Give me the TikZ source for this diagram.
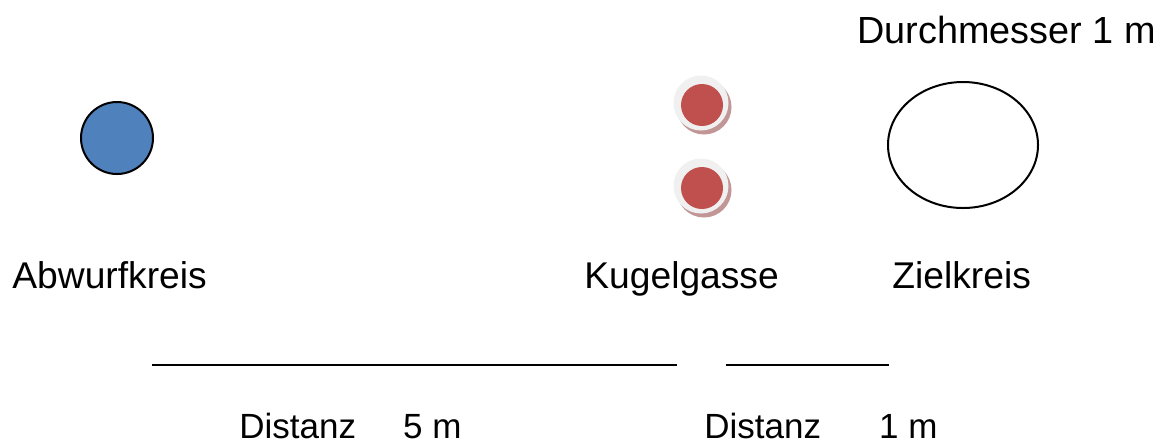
\documentclass[tikz,border=0pt]{standalone}
\usepackage{fontspec}
\setmainfont{Liberation Sans}
\usetikzlibrary{shapes.geometric}
\definecolor{ballblue}{HTML}{4F81BD}
\definecolor{ballred}{HTML}{C0504D}
\definecolor{ringgray}{HTML}{F0F0F0}
\definecolor{shadowred}{HTML}{C29696}
\begin{document}
\begin{tikzpicture}[x=0.5pt,y=-0.5pt,
  lbl/.style={anchor=base west,inner sep=0pt,font=\fontsize{18.6pt}{22pt}\selectfont},
  dlbl/.style={anchor=base west,inner sep=0pt,font=\fontsize{17.5pt}{21pt}\selectfont},
  rule/.style={line width=0.75pt},
  ring/.style={circle,fill=ringgray,inner sep=0pt,minimum size=27.5pt},
  shadow/.style={circle,fill=shadowred,inner sep=0pt,minimum size=27.5pt},
  redball/.style={circle,fill=ballred,inner sep=0pt,minimum size=21pt}]
\useasboundingbox (0,0) rectangle (1161,447);
% throw circle
\node[circle,draw=black,line width=1pt,fill=ballblue,inner sep=0pt,minimum size=36pt] (throw) at (117,138) {};
% balls
\node[shadow] (sh1) at (704,107) {};
\node[ring] (ring1) at (701,103) {};
\node[redball] (ball1) at (702,105) {};
\node[shadow] (sh2) at (704,190) {};
\node[ring] (ring2) at (701,186) {};
\node[redball] (ball2) at (702,188) {};
% target circle
\node[ellipse,draw=black,line width=1pt,inner sep=0pt,minimum width=75pt,minimum height=63pt] (target) at (963,145) {};
% labels
\node[lbl,font=\fontsize{18.9pt}{22pt}\selectfont] (diam) at (857,43) {Durchmesser 1 m};
\node[lbl] (abw) at (12,288) {Abwurfkreis};
\node[lbl] (kug) at (584,288) {Kugelgasse};
\node[lbl] (ziel) at (892,288) {Zielkreis};
\node[dlbl] (d5) at (239,438) {Distanz\hspace{23.5pt}5 m};
\node[dlbl] (d1) at (704,438) {Distanz\hspace{29pt}1 m};
% distance lines
\coordinate (l1a) at (152,365);
\coordinate (l1b) at (677,365);
\coordinate (l2a) at (726,365);
\coordinate (l2b) at (889,365);
\draw[rule] (l1a) -- (l1b);
\draw[rule] (l2a) -- (l2b);
\end{tikzpicture}
\end{document}
